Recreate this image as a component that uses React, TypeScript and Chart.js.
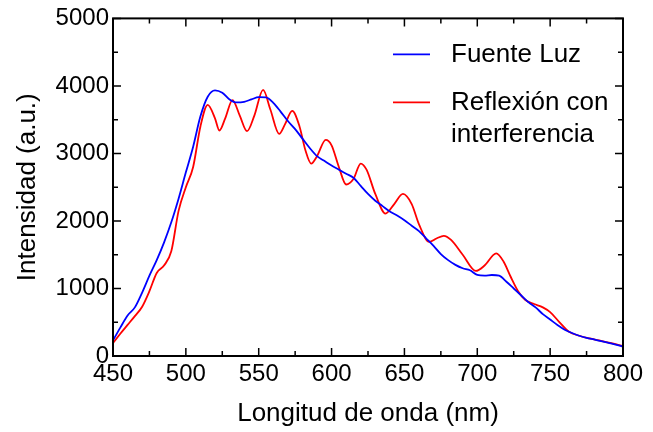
import React, { useEffect, useRef } from "react";
import { Chart, registerables } from "chart.js";

Chart.register(...registerables);

const xTicks = [450, 500, 550, 600, 650, 700, 750, 800];
const yTicks = [0, 1000, 2000, 3000, 4000, 5000];

const fuenteX = [450, 455, 460, 465, 470, 475, 480, 485, 490, 495, 500, 505, 510, 515, 520, 525, 530, 535, 540, 545, 550, 555, 560, 565, 570, 575, 580, 585, 590, 595, 600, 605, 610, 615, 620, 625, 630, 635, 640, 645, 650, 655, 660, 665, 670, 675, 680, 685, 690, 695, 700, 705, 710, 715, 720, 725, 730, 735, 740, 745, 750, 755, 760, 765, 770, 775, 780, 785, 790, 795, 800];
const fuenteY = [230, 420, 600, 720, 940, 1190, 1420, 1680, 1980, 2330, 2720, 3100, 3550, 3840, 3935, 3900, 3800, 3755, 3765, 3800, 3835, 3830, 3750, 3620, 3480, 3360, 3220, 3080, 2960, 2890, 2820, 2760, 2700, 2640, 2520, 2400, 2300, 2220, 2140, 2080, 2010, 1930, 1850, 1740, 1630, 1510, 1420, 1350, 1300, 1270, 1200, 1190, 1200, 1190, 1100, 1000, 900, 800, 720, 620, 540, 460, 390, 340, 300, 270, 245, 220, 195, 170, 140];

const reflexX = [450, 455, 460, 465, 470, 475, 480, 485, 490, 495, 500, 505, 510, 515, 520, 523, 527, 532, 537, 542, 547, 553, 558, 564, 568, 573, 578, 582, 586, 590, 596, 600, 605, 610, 615, 620, 624, 630, 637, 643, 649, 655, 660, 667, 672, 677, 682, 690, 699, 705, 713, 718, 723, 728, 733, 739, 745, 750, 756, 763, 770, 777, 785, 792, 800];
const reflexY = [190, 330, 460, 590, 730, 960, 1230, 1340, 1550, 2150, 2500, 2800, 3400, 3720, 3520, 3340, 3520, 3790, 3560, 3330, 3560, 3940, 3650, 3290, 3430, 3630, 3400, 3050, 2850, 2960, 3200, 3120, 2800, 2540, 2620, 2850, 2760, 2400, 2110, 2250, 2400, 2250, 1950, 1690, 1740, 1780, 1720, 1500, 1260, 1340, 1520, 1400, 1170, 960, 830, 770, 720, 650, 510, 360, 300, 260, 225, 190, 145];

const labelFuente = "Fuente Luz";
const labelReflex = ["Reflexión con", "interferencia"];

const FONT = "'Liberation Sans', Arial, sans-serif";

const framePlugin = {
  id: "frame",
  afterDatasetsDraw(chart: any) {
    const { ctx, chartArea, scales } = chart;
    const { left, right, top, bottom } = chartArea;
    const xs = scales.x;
    const ys = scales.y;
    ctx.save();
    ctx.strokeStyle = "#000";
    ctx.lineWidth = 2;
    ctx.strokeRect(left, top, right - left, bottom - top);
    ctx.lineWidth = 1.5;
    const majorLen = 8;
    const minorLen = 5;
    const xStep = xTicks[1] - xTicks[0];
    const yStep = yTicks[1] - yTicks[0];
    for (let i = 0; i < xTicks.length; i++) {
      const vals = [xTicks[i]];
      if (i < xTicks.length - 1) vals.push(xTicks[i] + xStep / 2);
      vals.forEach((v, k) => {
        const px = xs.getPixelForValue(v);
        const len = k === 0 ? majorLen : minorLen;
        ctx.beginPath();
        ctx.moveTo(px, bottom);
        ctx.lineTo(px, bottom - len);
        ctx.moveTo(px, top);
        ctx.lineTo(px, top + len);
        ctx.stroke();
      });
    }
    for (let i = 0; i < yTicks.length; i++) {
      const vals = [yTicks[i]];
      if (i < yTicks.length - 1) vals.push(yTicks[i] + yStep / 2);
      vals.forEach((v, k) => {
        const py = ys.getPixelForValue(v);
        const len = k === 0 ? majorLen : minorLen;
        ctx.beginPath();
        ctx.moveTo(left, py);
        ctx.lineTo(left + len, py);
        ctx.moveTo(right, py);
        ctx.lineTo(right - len, py);
        ctx.stroke();
      });
    }
    ctx.restore();
  },
};

const legendPlugin = {
  id: "customLegend",
  afterDraw(chart: any) {
    const { ctx, chartArea } = chart;
    const { left, top } = chartArea;
    const lineX0 = left + 280;
    const lineX1 = left + 317;
    const textX = left + 338;
    ctx.save();
    ctx.font = `26px ${FONT}`;
    ctx.textBaseline = "middle";
    ctx.textAlign = "left";
    ctx.lineWidth = 1.8;
    ctx.strokeStyle = "#0000ff";
    ctx.beginPath();
    ctx.moveTo(lineX0, top + 36);
    ctx.lineTo(lineX1, top + 36);
    ctx.stroke();
    ctx.fillStyle = "#000";
    ctx.fillText(labelFuente, textX, top + 36);
    ctx.strokeStyle = "#ff0000";
    ctx.beginPath();
    ctx.moveTo(lineX0, top + 84);
    ctx.lineTo(lineX1, top + 84);
    ctx.stroke();
    ctx.fillText(labelReflex[0], textX, top + 84);
    ctx.fillText(labelReflex[1], textX, top + 116);
    ctx.restore();
  },
};

export default function App() {
  const canvasRef = useRef<HTMLCanvasElement | null>(null);

  useEffect(() => {
    document.body.style.margin = "0";
    const canvas = canvasRef.current;
    if (!canvas) return;
    const chart = new Chart(canvas, {
      type: "line",
      data: {
        datasets: [
          {
            label: labelFuente,
            data: fuenteX.map((x, i) => ({ x, y: fuenteY[i] })),
            borderColor: "#0000ff",
            borderWidth: 1.8,
            pointRadius: 0,
            cubicInterpolationMode: "monotone",
            fill: false,
          },
          {
            label: labelReflex.join(" "),
            data: reflexX.map((x, i) => ({ x, y: reflexY[i] })),
            borderColor: "#ff0000",
            borderWidth: 1.8,
            pointRadius: 0,
            cubicInterpolationMode: "monotone",
            fill: false,
          },
        ],
      },
      options: {
        responsive: false,
        animation: false,
        layout: { padding: { top: 16, right: 30, left: 0, bottom: 0 } },
        plugins: {
          legend: { display: false },
          tooltip: { enabled: false },
        },
        scales: {
          x: {
            type: "linear",
            min: xTicks[0],
            max: xTicks[xTicks.length - 1],
            afterBuildTicks: (scale: any) => {
              scale.ticks = xTicks.map((v) => ({ value: v }));
            },
            afterFit: (scale: any) => {
              scale.height = 76;
            },
            grid: { display: false, drawTicks: false },
            border: { display: false },
            ticks: {
              color: "#000",
              font: { family: FONT, size: 24 },
              padding: 4,
              maxRotation: 0,
              autoSkip: false,
              callback: (v: any) => String(v),
            },
            title: {
              display: true,
              text: "Longitud de onda (nm)",
              color: "#000",
              font: { family: FONT, size: 26 },
              padding: { top: 0, bottom: 3 },
            },
          },
          y: {
            type: "linear",
            min: yTicks[0],
            max: yTicks[yTicks.length - 1],
            afterBuildTicks: (scale: any) => {
              scale.ticks = yTicks.map((v) => ({ value: v }));
            },
            afterFit: (scale: any) => {
              scale.width = 113;
            },
            grid: { display: false, drawTicks: false },
            border: { display: false },
            ticks: {
              color: "#000",
              font: { family: FONT, size: 24 },
              padding: 4,
              autoSkip: false,
              callback: (v: any) => String(v),
            },
            title: {
              display: true,
              text: "Intensidad (a.u.)",
              color: "#000",
              font: { family: FONT, size: 26 },
              padding: { top: 12, bottom: 0 },
            },
          },
        },
      },
      plugins: [framePlugin, legendPlugin],
    });
    return () => chart.destroy();
  }, []);

  return (
    <div style={{ position: "fixed", left: 0, top: 0, width: 653, height: 432, background: "#fff" }}>
      <canvas ref={canvasRef} width={653} height={432} style={{ display: "block" }} />
    </div>
  );
}
